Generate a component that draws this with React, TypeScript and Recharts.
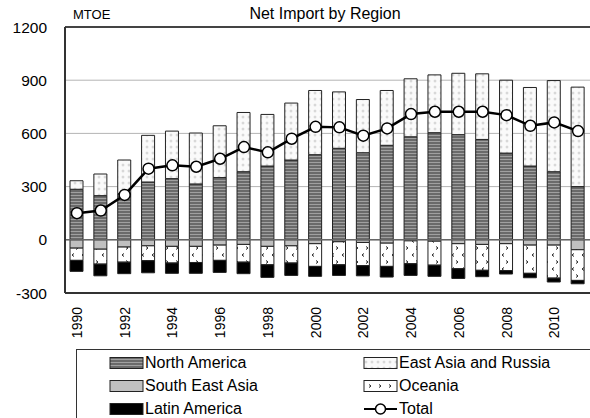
import React from 'react';
import { ComposedChart, Bar, Line, XAxis, YAxis, CartesianGrid, ReferenceLine } from 'recharts';

const FONT = '"Liberation Sans", Arial, Helvetica, sans-serif';

const years = ['1990','1991','1992','1993','1994','1995','1996','1997','1998','1999','2000','2001','2002','2003','2004','2005','2006','2007','2008','2009','2010','2011'];
const northAmerica = [285,249,260,326,345,315,351,384,416,450,480,516,491,533,581,604,593,566,489,416,384,300];
const eastAsiaRussia = [48,122,190,263,268,287,292,334,291,321,362,318,300,309,327,326,346,370,411,443,514,561];
const southEastAsia = [-47,-53,-41,-34,-37,-37,-30,-26,-37,-34,-22,-11,-15,-19,-6,-8,-22,-26,-22,-30,-30,-56];
const oceania = [-69,-84,-85,-84,-94,-91,-86,-100,-104,-97,-128,-130,-131,-131,-129,-135,-141,-146,-152,-159,-186,-173];
const latinAmerica = [-62,-66,-65,-68,-58,-61,-68,-65,-71,-70,-56,-60,-57,-60,-66,-63,-55,-36,-19,-25,-22,-19];
const total = [150,165,253,401,420,412,457,523,493,570,637,634,587,628,709,722,722,722,703,643,662,613];
const yTicks = [-300, 0, 300, 600, 900, 1200];

const data = years.map((year, i) => ({
  year,
  northAmerica: northAmerica[i],
  eastAsiaRussia: eastAsiaRussia[i],
  southEastAsia: southEastAsia[i],
  oceania: oceania[i],
  latinAmerica: latinAmerica[i],
  total: total[i],
}));

const Patterns = () => (
  <svg width={0} height={0} style={{ position: 'absolute' }}>
    <defs>
      <pattern id="pNA" width={4} height={3} patternUnits="userSpaceOnUse">
        <rect width={4} height={3} fill="#6a6a6a" />
        <rect width={4} height={1} y={0} fill="#a0a0a0" />
      </pattern>
      <pattern id="pEA" width={6} height={6} patternUnits="userSpaceOnUse">
        <rect width={6} height={6} fill="#fafafa" />
        <circle cx={3} cy={3} r={1.5} fill="#e0e0e0" />
        <circle cx={3} cy={3} r={0.7} fill="#cccccc" />
      </pattern>
      <pattern id="pOC" width={10} height={14} patternUnits="userSpaceOnUse">
        <rect width={10} height={14} fill="#ffffff" />
        <path d="M4 1.5 L2 3 L4 4.5" stroke="#222" strokeWidth={1} fill="none" />
        <path d="M6 8.5 L8 10 L6 11.5" stroke="#222" strokeWidth={1} fill="none" />
      </pattern>
    </defs>
  </svg>
);

const XTick = (props: any) => {
  const { x, y, payload } = props;
  return (
    <g transform={`translate(${x},${y})`}>
      <text transform="rotate(-90)" textAnchor="end" dy="0.36em" fontSize={14} fontFamily={FONT} fill="#000">
        {payload.value}
      </text>
    </g>
  );
};

const legendItems = [
  { label: 'North America', fill: 'url(#pNA)', col: 0, row: 0 },
  { label: 'East Asia and Russia', fill: 'url(#pEA)', col: 1, row: 0 },
  { label: 'South East Asia', fill: '#c0c0c0', col: 0, row: 1 },
  { label: 'Oceania', fill: 'url(#pOC)', col: 1, row: 1 },
  { label: 'Latin America', fill: '#000', col: 0, row: 2 },
  { label: 'Total', fill: 'line', col: 1, row: 2 },
];

const Legend = () => (
  <div style={{ position: 'absolute', left: 76, top: 349, width: 530, height: 80, border: '1px solid #333', boxSizing: 'border-box' }}>
    {legendItems.map((it) => {
      const left = it.col === 0 ? 32 : 286;
      const top = 3 + it.row * 23.2;
      return (
        <div key={it.label} style={{ position: 'absolute', left, top, height: 20, display: 'flex', alignItems: 'center', whiteSpace: 'nowrap' }}>
          <svg width={36} height={20} style={{ display: 'block' }}>
            {it.fill === 'line' ? (
              <g>
                <line x1={1} x2={34} y1={10} y2={10} stroke="#000" strokeWidth={2} />
                <circle cx={17.5} cy={10} r={5} fill="#fff" stroke="#000" strokeWidth={1.5} />
              </g>
            ) : (
              <rect x={1} y={4.5} width={33} height={11} fill={it.fill} stroke="#222" strokeWidth={1} />
            )}
          </svg>
          <span style={{ fontFamily: FONT, fontSize: 16, color: '#000', marginLeft: 0 }}>{it.label}</span>
        </div>
      );
    })}
  </div>
);

export default function App() {
  return (
    <div style={{ position: 'absolute', left: 0, top: 0, width: 590, height: 418, overflow: 'hidden', background: '#fff', fontFamily: FONT }}>
      <Patterns />
      <ComposedChart
        width={590}
        height={418}
        data={data}
        stackOffset="sign"
        margin={{ top: 27, right: 0, bottom: 75, left: 0 }}
        barSize={13}
      >
        <CartesianGrid vertical={false} stroke="#b4b4b4" strokeWidth={1} />
        <XAxis
          dataKey="year"
          interval={1}
          tickLine={false}
          axisLine={{ stroke: '#333', strokeWidth: 2 }}
          height={50}
          tickSize={6}
          tickMargin={8}
          tick={<XTick />}
        />
        <YAxis
          type="number"
          domain={[-300, 1200]}
          ticks={yTicks}
          interval={0}
          width={65}
          tickLine={false}
          tickSize={6}
          tickMargin={12}
          axisLine={{ stroke: '#333', strokeWidth: 2 }}
          tick={{ fontSize: 15.5, fill: '#000', fontFamily: FONT }}
        />
        <Bar dataKey="northAmerica" stackId="s" fill="url(#pNA)" stroke="#222" strokeWidth={1} isAnimationActive={false} />
        <Bar dataKey="eastAsiaRussia" stackId="s" fill="url(#pEA)" stroke="#222" strokeWidth={1} isAnimationActive={false} />
        <Bar dataKey="southEastAsia" stackId="s" fill="#c0c0c0" stroke="#222" strokeWidth={1} isAnimationActive={false} />
        <Bar dataKey="oceania" stackId="s" fill="url(#pOC)" stroke="#222" strokeWidth={1} isAnimationActive={false} />
        <Bar dataKey="latinAmerica" stackId="s" fill="#000" stroke="#222" strokeWidth={1} isAnimationActive={false} />
        <ReferenceLine y={0} stroke="#666" strokeWidth={1.5} />
        <ReferenceLine y={1200} stroke="#444" strokeWidth={2} />
        <Line
          type="linear"
          dataKey="total"
          stroke="#000"
          strokeWidth={2.5}
          dot={{ r: 5.5, fill: '#fff', stroke: '#000', strokeWidth: 1.5 }}
          activeDot={false}
          isAnimationActive={false}
        />
        <text x={73} y={18.5} fontSize={13} fontFamily={FONT} fill="#000">MTOE</text>
        <text x={325} y={18.5} textAnchor="middle" fontSize={16} fontFamily={FONT} fill="#000">Net Import by Region</text>
      </ComposedChart>
      <Legend />
    </div>
  );
}
